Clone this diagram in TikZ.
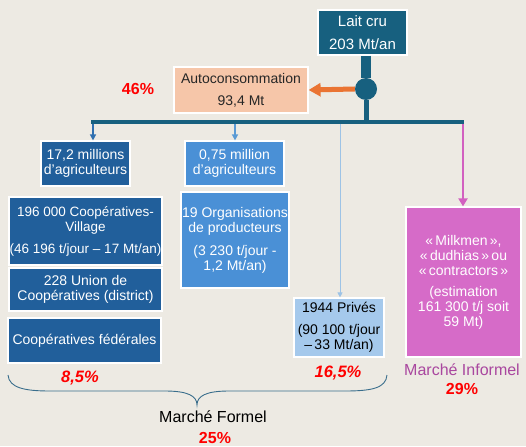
\documentclass[tikz,border=0pt]{standalone}
\usepackage{fontspec}
\setmainfont{Liberation Sans}
\usetikzlibrary{arrows.meta}
\definecolor{bg}{RGB}{237,234,227}
\definecolor{tealD}{RGB}{23,96,127}
\definecolor{peach}{RGB}{246,198,169}
\definecolor{orangeA}{RGB}{234,116,51}
\definecolor{blueD}{RGB}{33,95,155}
\definecolor{blueM}{RGB}{74,144,214}
\definecolor{blueL}{RGB}{165,201,236}
\definecolor{arrL}{RGB}{48,112,176}
\definecolor{arrM}{RGB}{91,155,213}
\definecolor{arrLL}{RGB}{157,195,230}
\definecolor{pinkB}{RGB}{214,107,200}
\definecolor{pinkA}{RGB}{210,96,192}
\definecolor{purpT}{RGB}{169,71,159}
\definecolor{braceC}{RGB}{58,110,140}
\tikzset{
  bx/.style={draw=white, line width=1.2pt, inner sep=0pt, align=center, rectangle,
    font=\fontsize{14}{15}\selectfont},
  pct/.style={text=red, font=\fontsize{16}{18}\selectfont\bfseries, inner sep=0pt},
  lbl/.style={font=\fontsize{16}{18}\selectfont, inner sep=0pt},
}
\begin{document}
\begin{tikzpicture}[x=1pt,y=-1pt]
\fill[bg] (0,0) rectangle (526,446);
\useasboundingbox (0,0) rectangle (526,446);

% boxes
\node[bx, fill=tealD, text=white, minimum width=89pt, minimum height=45pt,
  font=\fontsize{15}{17}\selectfont] (lait) at (362.5,32.5) {Lait cru\\[6pt]203 Mt/an};
\node[bx, fill=peach, text=black!85, minimum width=134pt, minimum height=46pt,
  font=\fontsize{14}{16}\selectfont] (auto) at (241,90) {Autoconsommation\\[6pt]93,4 Mt};
\node[bx, fill=blueD, text=white, minimum width=89pt, minimum height=45pt] (agri1) at (85.5,163.5) {17,2 millions\\d'agriculteurs};
\node[bx, fill=blueM, text=white, minimum width=99pt, minimum height=45pt] (agri2) at (234.5,163.5) {0,75 million\\d'agriculteurs};
\node[bx, fill=blueD, text=white, minimum width=153pt, minimum height=68pt,
  font=\fontsize{13.5}{15}\selectfont] (coopv) at (85.5,231) {196 000 Coopératives-\\Village\\[7pt](46 196 t/jour -- 17 Mt/an)};
\node[bx, fill=blueD, text=white, minimum width=153pt, minimum height=43pt] (union) at (85.5,289.5) {228 Union de\\Coopératives (district)};
\node[bx, fill=blueD, text=white, minimum width=153pt, minimum height=45pt] (fed) at (84.5,340.5) {Coopératives fédérales};
\node[bx, fill=blueM, text=white, minimum width=108pt, minimum height=96pt] (org) at (235,240) {19 Organisations\\de producteurs\\[8pt](3 230 t/jour -\\1,2 Mt/an)};
\node[bx, fill=blueL, text=black, minimum width=90pt, minimum height=59pt] (priv) at (339,327.5) {1944 Privés\\[7pt](90 100 t/jour\\--\,33 Mt/an)};
\node[bx, fill=pinkB, text=white, minimum width=115pt, minimum height=150pt] (pink) at (463.5,282) {«\,Milkmen\,»,\\«\,dudhias\,»\,ou\\«\,contractors\,»\\[6pt](estimation\\161 300 t/j soit\\59 Mt)};

% hub and stem
\node[circle, fill=tealD, minimum size=22pt, inner sep=0pt] (hub) at (366,89) {};
\coordinate (barL) at (91,122.5);
\coordinate (barR) at (463.5,122.5);
\draw[tealD, line width=9.5pt] (lait.south -| hub) -- (hub);
\draw[tealD, line width=5pt] (hub) -- (hub |- barL);
\draw[tealD, line width=4pt] (barL) -- (barR);
\draw[orangeA, line width=5pt, -{Triangle[width=13pt,length=12pt]}] (hub.west) -- (auto.east);

% branches
\coordinate (a1) at (93,124);
\coordinate (a2) at (235,124);
\coordinate (a3) at (340,124);
\coordinate (a4) at (463,124);
\draw[arrL, line width=1.5pt, -{Triangle[width=6pt,length=6pt]}] (a1) -- (a1 |- agri1.north);
\draw[arrM, line width=1.5pt, -{Triangle[width=6pt,length=6pt]}] (a2) -- (a2 |- agri2.north);
\draw[arrLL, line width=1pt, -{Triangle[width=5pt,length=5pt]}] (a3) -- (a3 |- priv.north);
\draw[pinkA, line width=2.5pt, -{Triangle[width=9pt,length=8pt]}] (a4) -- (a4 |- pink.north);

% brace
\coordinate (brL) at (8,375);
\coordinate (brR) at (387,375);
\coordinate (brT) at (197,405);
\draw[braceC, line width=0.9pt] (brL) .. controls (9,388) and (25,391) .. (50,391)
  -- (165,391) .. controls (188,391) and (197,396) .. (brT)
  .. controls (197,396) and (206,391) .. (229,391)
  -- (345,391) .. controls (372,391) and (386,388) .. (brR);

% labels
\node[pct] (p46) at (138,89) {46\%};
\node[pct, font=\fontsize{16.5}{18}\selectfont\bfseries\itshape] (p85) at (80,378) {8,5\%};
\node[pct, font=\fontsize{16.5}{18}\selectfont\bfseries\itshape] (p165) at (338,373) {16,5\%};
\node[lbl] (mf) at (213,417) {Marché Formel};
\node[pct] (p25) at (215,438) {25\%};
\node[lbl, text=purpT] (mi) at (462,370) {Marché Informel};
\node[pct] (p29) at (462,389) {29\%};
\end{tikzpicture}
\end{document}
